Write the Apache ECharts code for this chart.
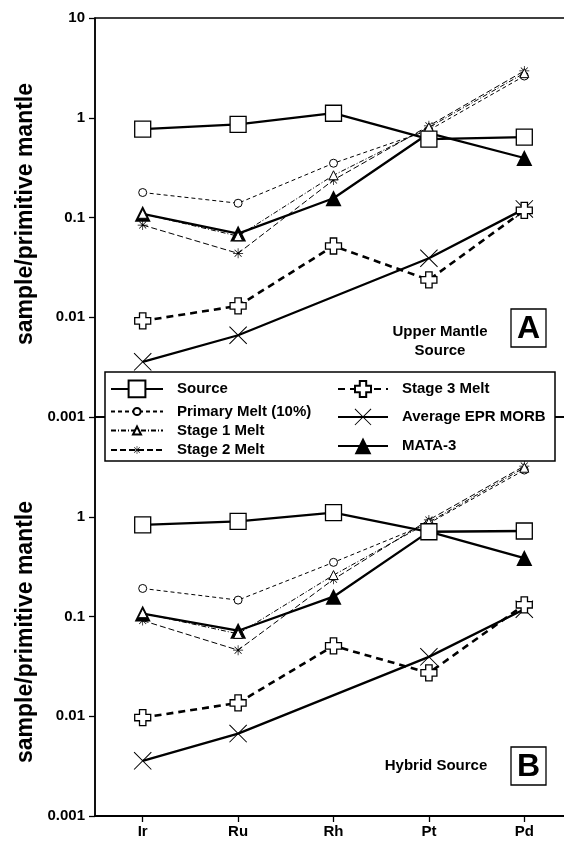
<!DOCTYPE html>
<html><head><meta charset="utf-8">
<script src="https://cdn.jsdelivr.net/npm/echarts@6/dist/echarts.min.js"></script>
<style>html,body{margin:0;padding:0;background:#fff}#c{width:564px;height:843px}</style>
</head><body><div id="c"></div>
<script>
// ---------- data ----------
const categories = ['Ir', 'Ru', 'Rh', 'Pt', 'Pd'];
const yTickLabels = ['0.001', '0.01', '0.1', '1', '10'];
const seriesNames = ['Source', 'Primary Melt (10%)', 'Stage 1 Melt', 'Stage 2 Melt', 'Stage 3 Melt', 'Average EPR MORB', 'MATA-3'];

// Panel A: Upper Mantle Source
const sourceA  = [0.77, 0.86, 1.11, 0.61, 0.64];
const primaryA = [0.178, 0.139, 0.35, 0.75, 2.62];
const stage1A  = [0.109, 0.065, 0.265, 0.80, 2.8];
const stage2A  = [0.084, 0.0437, 0.238, 0.83, 2.95];
const stage3A  = [0.0092, 0.013, 0.0518, 0.0237, 0.118];
const morbA    = [0.00357, 0.0066, null, 0.039, 0.122];
const mataA    = [0.109, 0.069, 0.156, 0.70, 0.395];

// Panel B: Hybrid Source
const sourceB  = [0.83, 0.90, 1.10, 0.707, 0.72];
const primaryB = [0.191, 0.146, 0.349, 0.86, 2.94];
const stage1B  = [0.108, 0.067, 0.26, 0.88, 3.1];
const stage2B  = [0.091, 0.046, 0.236, 0.93, 3.22];
const stage3B  = [0.0097, 0.0136, 0.0508, 0.0272, 0.131];
const morbB    = [0.00357, 0.0067, null, 0.0394, 0.118];
const mataB    = [0.107, 0.072, 0.158, 0.71, 0.385];

const panelData = [
  { 'Source': sourceA, 'Primary Melt (10%)': primaryA, 'Stage 1 Melt': stage1A, 'Stage 2 Melt': stage2A,
    'Stage 3 Melt': stage3A, 'Average EPR MORB': morbA, 'MATA-3': mataA },
  { 'Source': sourceB, 'Primary Melt (10%)': primaryB, 'Stage 1 Melt': stage1B, 'Stage 2 Melt': stage2B,
    'Stage 3 Melt': stage3B, 'Average EPR MORB': morbB, 'MATA-3': mataB }
];

// ---------- styles ----------
const PLUS = 'path://M3,0H7V3H10V7H7V10H3V7H0V3H3Z';
const XMARK = 'path://M0,0.8L0.8,0L20,19.2L19.2,20Z M20,0.8L0.8,20L0,19.2L19.2,0Z';
const AST = 'path://M0,9.3H20V10.7H0Z M9.3,0H10.7V20H9.3Z M2.5,3.5L3.5,2.5L17.5,16.5L16.5,17.5Z M17.5,3.5L3.5,17.5L2.5,16.5L16.5,2.5Z';

const sty = {
  'Source':             { symbol: 'rect',     size: 16, fill: '#fff', bw: 1.3, lw: 2.3, type: 'solid' },
  'Primary Melt (10%)': { symbol: 'circle',   size: 8,  fill: '#fff', bw: 1,   lw: 1,   type: [4, 3] },
  'Stage 1 Melt':       { symbol: 'triangle', size: 9,  fill: '#fff', bw: 1,   lw: 1,   type: [5, 2, 1, 2] },
  'Stage 2 Melt':       { symbol: AST,        size: 10, fill: '#000', bw: 0,   lw: 1,   type: [6, 3] },
  'Stage 3 Melt':       { symbol: PLUS,       size: 16, fill: '#fff', bw: 1.3, lw: 2.6, type: [7, 5] },
  'Average EPR MORB':   { symbol: XMARK,      size: 18, fill: '#000', bw: 0,   lw: 2.3, type: 'solid' },
  'MATA-3':             { symbol: 'triangle', size: 16, fill: '#000', bw: 0,   lw: 2.3, type: 'solid' }
};
const drawOrder = ['Average EPR MORB', 'Stage 3 Melt', 'Stage 2 Melt', 'Primary Melt (10%)', 'MATA-3', 'Stage 1 Melt', 'Source'];
const hiddenMarker = { 'MATA-3': ['Pt'] };

function labelFor(v) {
  for (const t of yTickLabels) {
    if (Math.abs(Math.log10(v) - Math.log10(parseFloat(t))) < 1e-6) return t;
  }
  return '';
}

const series = [];
[0, 1].forEach(p => {
  drawOrder.forEach(name => {
    const s = sty[name];
    const vals = panelData[p][name];
    const data = vals.map((v, i) => {
      if (v === null) return null;
      if (hiddenMarker[name] && hiddenMarker[name].indexOf(categories[i]) >= 0) {
        return { value: v, symbol: 'none' };
      }
      return v;
    });
    series.push({
      name: name, type: 'line', xAxisIndex: p, yAxisIndex: p,
      data: data, connectNulls: true, symbol: s.symbol, symbolSize: s.size,
      showAllSymbol: true,
      lineStyle: { color: '#000', width: s.lw, type: s.type },
      itemStyle: { color: s.fill, borderColor: '#000', borderWidth: s.bw },
      emphasis: { disabled: true }, silent: true
    });
  });
});

const FONT = 'Liberation Sans, Arial, Helvetica, sans-serif';

function yAxis(idx, showMax) {
  return {
    type: 'log', logBase: 10, gridIndex: idx, min: 0.001, max: 10,
    axisLine: { show: true, lineStyle: { color: '#000', width: 1.6 } },
    axisTick: { show: true, inside: false, length: 6, lineStyle: { color: '#000', width: 1.3 } },
    axisLabel: { show: true, margin: 10, color: '#000', fontFamily: FONT, fontWeight: 'bold', fontSize: 15,
      showMaxLabel: showMax, formatter: v => labelFor(v) },
    splitLine: { show: false }, minorTick: { show: false }
  };
}

// legends: one per item for exact placement
const legendSpec = [
  { name: 'Source',             left: 110, cy: 390,   w: 52, h: 21 },
  { name: 'Primary Melt (10%)', left: 110, cy: 411.5, w: 52, h: 9 },
  { name: 'Stage 1 Melt',       left: 110, cy: 430.5, w: 52, h: 10 },
  { name: 'Stage 2 Melt',       left: 110, cy: 450,   w: 52, h: 10 },
  { name: 'Stage 3 Melt',       left: 337, cy: 390,   w: 50, h: 20 },
  { name: 'Average EPR MORB',   left: 337, cy: 419,   w: 50, h: 21 },
  { name: 'MATA-3',             left: 337, cy: 448,   w: 50, h: 21 }
];
const legends = legendSpec.map(l => {
  const H = Math.max(l.h, 15);
  return {
    show: true, orient: 'vertical', left: l.left, top: l.cy - H / 2, padding: 0,
    itemWidth: l.w, itemHeight: l.h, data: [l.name], selectedMode: false, z: 30,
    textStyle: { color: '#000', fontFamily: FONT, fontWeight: 'bold', fontSize: 15, padding: [0, 0, 0, 9] }
  };
});

const option = {
  animation: false,
  backgroundColor: '#fff',
  grid: [
    { left: 95, top: 18, width: 477, height: 399, show: true, borderColor: '#000', borderWidth: 1.3,
      backgroundColor: 'transparent', outerBoundsMode: 'none', containLabel: false },
    { left: 95, top: 417, width: 477, height: 399, show: true, borderColor: '#000', borderWidth: 1.3,
      backgroundColor: 'transparent', outerBoundsMode: 'none', containLabel: false }
  ],
  xAxis: [
    { type: 'category', gridIndex: 0, data: categories, boundaryGap: true,
      axisLine: { show: true, lineStyle: { color: '#000', width: 1.5 } },
      axisTick: { show: false }, axisLabel: { show: false }, splitLine: { show: false } },
    { type: 'category', gridIndex: 1, data: categories, boundaryGap: true,
      axisLine: { show: true, lineStyle: { color: '#000', width: 2 } },
      axisTick: { show: true, alignWithLabel: true, length: 6, lineStyle: { color: '#000', width: 1.3 } },
      axisLabel: { show: true, margin: 8, color: '#000', fontFamily: FONT, fontWeight: 'bold', fontSize: 15 },
      splitLine: { show: false } }
  ],
  yAxis: [yAxis(0, true), yAxis(1, false)],
  legend: legends,
  series: series,
  graphic: [
    { type: 'rect', z: 20, shape: { x: 105, y: 372, width: 450, height: 89 },
      style: { fill: '#fff', stroke: '#000', lineWidth: 1.5 } },
    { type: 'text', z: 20, x: 440, y: 341, style: { text: 'Upper Mantle\nSource', textAlign: 'center', textVerticalAlign: 'middle',
      font: 'bold 15px ' + FONT, fill: '#000', lineHeight: 19 } },
    { type: 'rect', z: 20, shape: { x: 511, y: 309, width: 35, height: 38 },
      style: { fill: '#fff', stroke: '#000', lineWidth: 1.3 } },
    { type: 'text', z: 21, x: 528.5, y: 329, style: { text: 'A', textAlign: 'center', textVerticalAlign: 'middle',
      font: 'bold 32px ' + FONT, fill: '#000' } },
    { type: 'text', z: 20, x: 436, y: 766, style: { text: 'Hybrid Source', textAlign: 'center', textVerticalAlign: 'middle',
      font: 'bold 15px ' + FONT, fill: '#000' } },
    { type: 'rect', z: 20, shape: { x: 511, y: 747, width: 35, height: 38 },
      style: { fill: '#fff', stroke: '#000', lineWidth: 1.3 } },
    { type: 'text', z: 21, x: 528.5, y: 767, style: { text: 'B', textAlign: 'center', textVerticalAlign: 'middle',
      font: 'bold 32px ' + FONT, fill: '#000' } },
    { type: 'text', z: 20, x: 26, y: 214, rotation: Math.PI / 2, style: { text: 'sample/primitive mantle', textAlign: 'center',
      textVerticalAlign: 'middle', font: 'bold 23px ' + FONT, fill: '#000' } },
    { type: 'text', z: 20, x: 26, y: 632, rotation: Math.PI / 2, style: { text: 'sample/primitive mantle', textAlign: 'center',
      textVerticalAlign: 'middle', font: 'bold 23px ' + FONT, fill: '#000' } }
  ]
};

const chart = echarts.init(document.getElementById('c'), null, { renderer: 'canvas' });
chart.setOption(option);
</script>
</body></html>
